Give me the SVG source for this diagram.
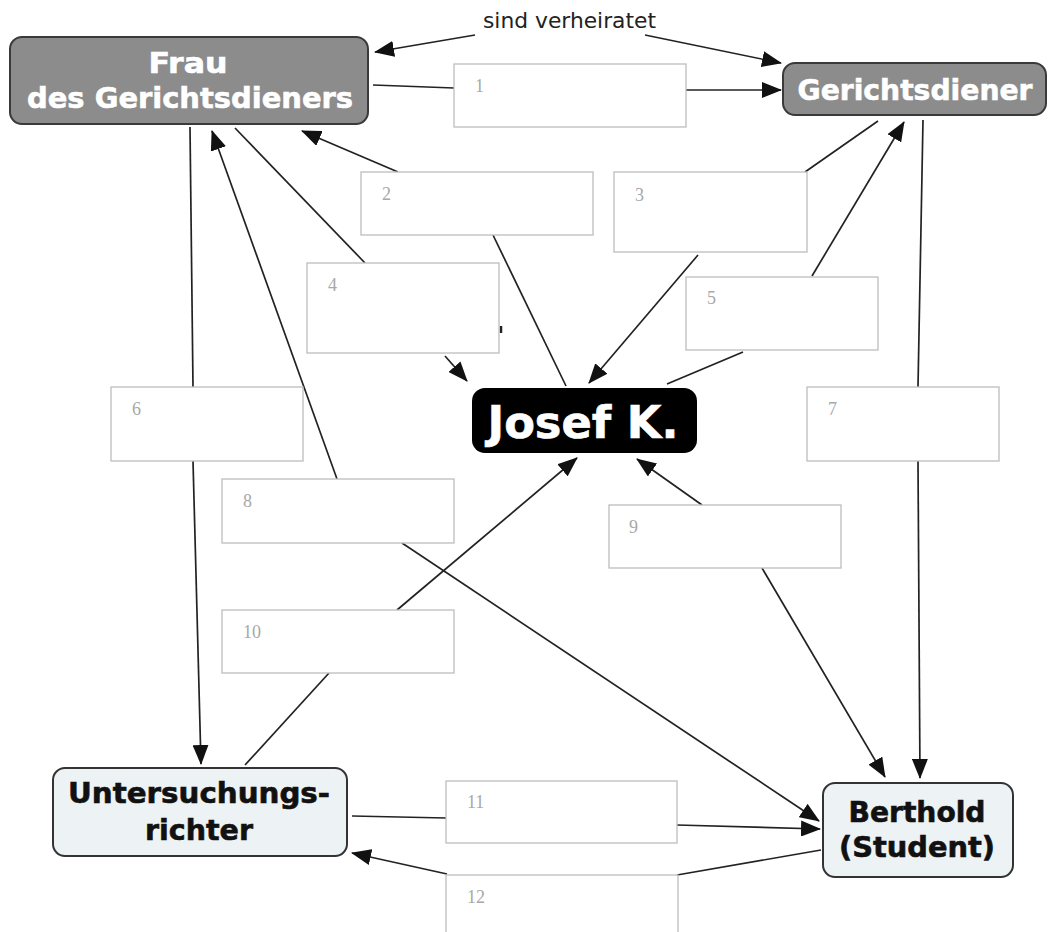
<svg xmlns="http://www.w3.org/2000/svg" width="1050" height="932" viewBox="0 0 1050 932">
<style>
.c{stroke:#222;stroke-width:1.7;fill:none}
.a{marker-end:url(#ah)}
.lbl{fill:#fff;stroke:#bdbdbd;stroke-width:1.3}
.num{font-family:"Liberation Serif","DejaVu Serif",serif;font-size:18px;fill:#a8a8a8}
.nd{font-family:"DejaVu Sans",Verdana,sans-serif;font-weight:bold;font-size:28px;text-anchor:middle;stroke-width:0.6}
.w{fill:#fff;stroke:#fff}
.k{fill:#111;stroke:#111}
.gray{fill:#8c8c8c;stroke:#3a3a3a;stroke-width:2}
.light{fill:#edf2f4;stroke:#333;stroke-width:2}
</style>
<defs>
<marker id="ah" viewBox="0 0 20 16" refX="19" refY="8" markerWidth="20" markerHeight="16" markerUnits="userSpaceOnUse" orient="auto">
<path d="M0,0 L20,8 L0,16 z" fill="#111"/>
</marker>
</defs>
<rect width="1050" height="932" fill="#fff"/>
<g id="connectors">
<path class="c a" d="M475,35 L375,52"/>
<path class="c a" d="M645,35 L781,63"/>
<path class="c" d="M373,85 L454,88"/>
<path class="c a" d="M686,90 L781,90"/>
<path class="c" d="M566,386 L493,235"/>
<path class="c a" d="M398,172 L302,131"/>
<path class="c" d="M878,121 L805,172"/>
<path class="c a" d="M698,255 L589,383"/>
<path class="c" d="M235,128 L365,263"/>
<path class="c a" d="M445,356 L467,381"/>
<line x1="501" y1="326" x2="501" y2="333" stroke="#222" stroke-width="2.5"/>
<path class="c" d="M667,384 L743,352"/>
<path class="c a" d="M812,276 L904,122"/>
<path class="c" d="M190,127 L193,387"/>
<path class="c a" d="M193,461 L201,764"/>
<path class="c" d="M923,120 L918,387"/>
<path class="c a" d="M918,461 L920,778"/>
<path class="c a" d="M337,479 L212,131"/>
<path class="c a" d="M402,543 L819,821"/>
<path class="c a" d="M702,505 L637,459"/>
<path class="c a" d="M762,568 L885,777"/>
<path class="c" d="M245,765 L329,673"/>
<path class="c a" d="M397,610 L577,458"/>
<path class="c" d="M352,816 L446,818"/>
<path class="c a" d="M677,825 L820,829"/>
<path class="c" d="M821,850 L677,875"/>
<path class="c a" d="M447,874 L352,853"/>
</g>
<g id="frau">
<rect class="gray" x="10" y="37" width="358" height="87" rx="12"/>
<text class="nd w" x="188" y="73" textLength="79" lengthAdjust="spacingAndGlyphs">Frau</text>
<text class="nd w" x="190" y="108" textLength="326" lengthAdjust="spacingAndGlyphs">des Gerichtsdieners</text>
</g>
<g id="gerichtsdiener">
<rect class="gray" x="783" y="63" width="263" height="52" rx="12"/>
<text class="nd w" x="915" y="100" textLength="235" lengthAdjust="spacingAndGlyphs">Gerichtsdiener</text>
</g>
<g id="josef">
<rect x="472" y="388" width="225" height="65" rx="13" fill="#000"/>
<text class="nd w" x="583" y="438" style="font-size:44px" textLength="191" lengthAdjust="spacingAndGlyphs">Josef K.</text>
</g>
<g id="untersuchungsrichter">
<rect class="light" x="53" y="768" width="294" height="88" rx="12"/>
<text class="nd k" x="199" y="803" textLength="262" lengthAdjust="spacingAndGlyphs">Untersuchungs-</text>
<text class="nd k" x="199" y="840" textLength="108" lengthAdjust="spacingAndGlyphs">richter</text>
</g>
<g id="berthold">
<rect class="light" x="823" y="783" width="190" height="94" rx="12"/>
<text class="nd k" x="917" y="822" textLength="137" lengthAdjust="spacingAndGlyphs">Berthold</text>
<text class="nd k" x="917" y="857" textLength="156" lengthAdjust="spacingAndGlyphs">(Student)</text>
</g>
<g id="verheiratet">
<text x="483" y="28" font-family="DejaVu Sans,Verdana,sans-serif" font-size="21" fill="#222" textLength="173" lengthAdjust="spacingAndGlyphs">sind verheiratet</text>
</g>
<g id="label1"><rect class="lbl" x="454" y="64" width="232" height="63"/><text class="num" x="475" y="92">1</text></g>
<g id="label2"><rect class="lbl" x="361" y="172" width="232" height="63"/><text class="num" x="382" y="200">2</text></g>
<g id="label3"><rect class="lbl" x="614" y="172" width="193" height="80"/><text class="num" x="635" y="201">3</text></g>
<g id="label4"><rect class="lbl" x="307" y="263" width="192" height="90"/><text class="num" x="328" y="291">4</text></g>
<g id="label5"><rect class="lbl" x="686" y="277" width="192" height="73"/><text class="num" x="707" y="304">5</text></g>
<g id="label6"><rect class="lbl" x="111" y="387" width="192" height="74"/><text class="num" x="132" y="415">6</text></g>
<g id="label7"><rect class="lbl" x="807" y="387" width="192" height="74"/><text class="num" x="828" y="415">7</text></g>
<g id="label8"><rect class="lbl" x="222" y="479" width="232" height="64"/><text class="num" x="243" y="507">8</text></g>
<g id="label9"><rect class="lbl" x="609" y="505" width="232" height="63"/><text class="num" x="629" y="533">9</text></g>
<g id="label10"><rect class="lbl" x="222" y="610" width="232" height="63"/><text class="num" x="243" y="638">10</text></g>
<g id="label11"><rect class="lbl" x="446" y="781" width="231" height="62"/><text class="num" x="467" y="808">11</text></g>
<g id="label12"><rect class="lbl" x="446" y="875" width="232" height="70"/><text class="num" x="467" y="903">12</text></g>
</svg>
